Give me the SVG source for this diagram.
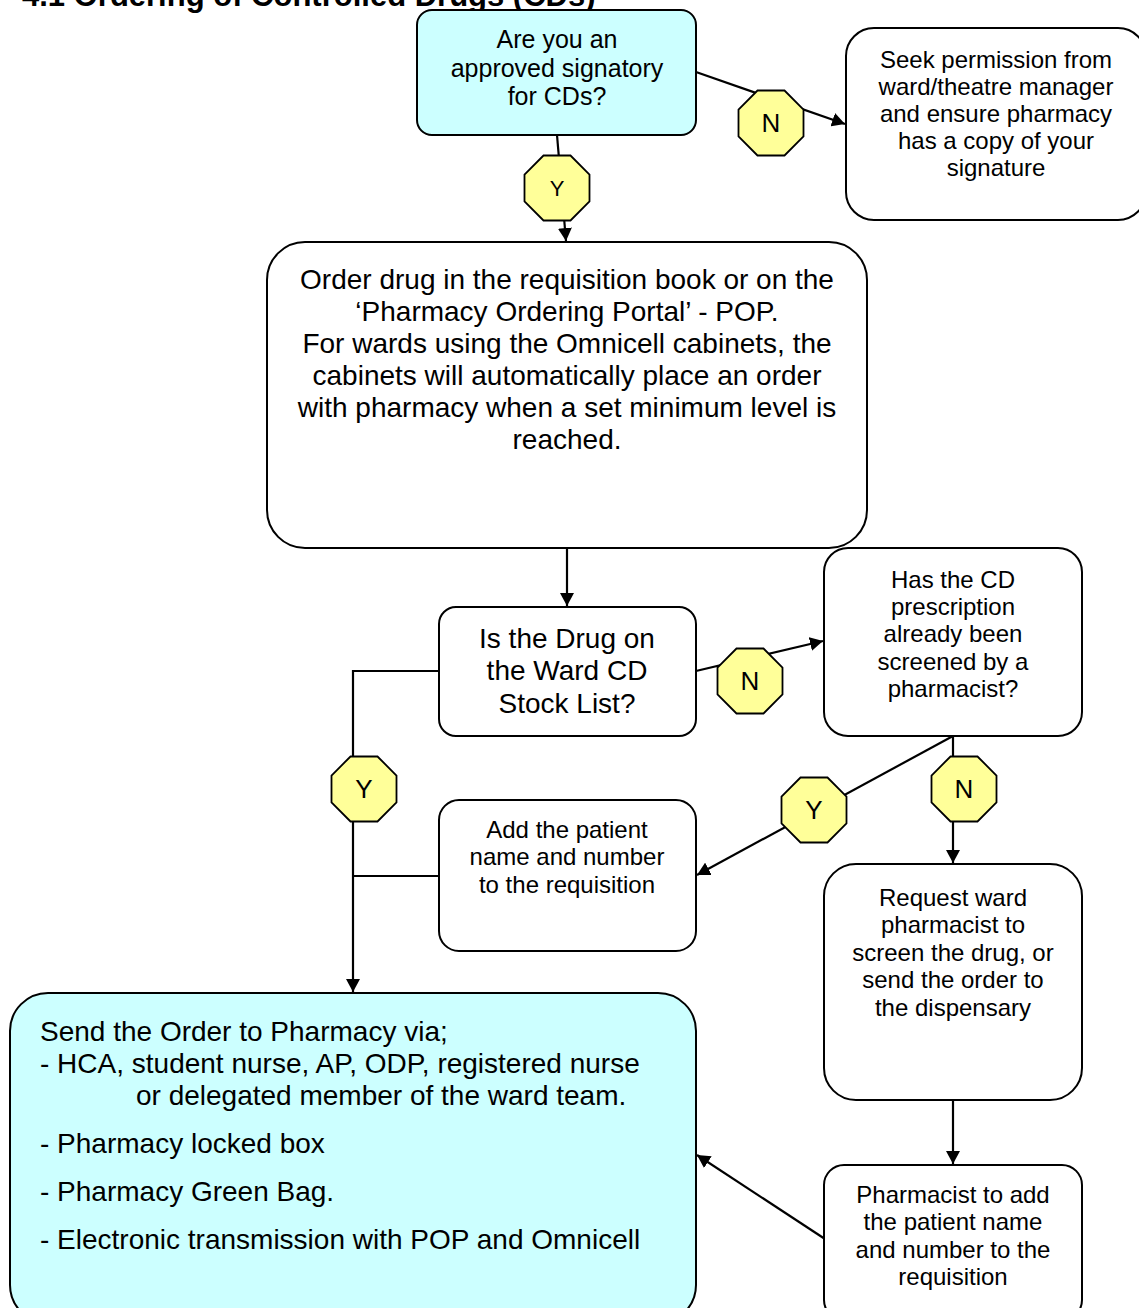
<svg xmlns="http://www.w3.org/2000/svg" width="1139" height="1308" viewBox="0 0 1139 1308">
<style>
.box{fill:#ffffff;stroke:#000;stroke-width:2}
.cyan{fill:#ccffff;stroke:#000;stroke-width:2}
.t{font-family:"Liberation Sans",Arial,sans-serif;fill:#000;text-anchor:middle}
.tl{font-family:"Liberation Sans",Arial,sans-serif;fill:#000}
.oct{fill:#ffff99;stroke:#000;stroke-width:1.8}
.ln{fill:none;stroke:#000;stroke-width:2.2}
.lbl{font-family:"Liberation Sans",Arial,sans-serif;font-size:26px;fill:#000;text-anchor:middle}
</style>
<defs>
<marker id="arr" markerUnits="userSpaceOnUse" markerWidth="14" markerHeight="14" refX="13" refY="7" orient="auto">
<path d="M0,0 L13,7 L0,14 z" fill="#000"/>
</marker>
<polygon id="octagon" points="-13.5,-32.5 13.5,-32.5 32.5,-13.5 32.5,13.5 13.5,32.5 -13.5,32.5 -32.5,13.5 -32.5,-13.5"/>
</defs>
<rect width="1139" height="1308" fill="#ffffff"/>
<text class="tl" x="22" y="6" font-size="31" font-weight="bold">4.1 Ordering of Controlled Drugs (CDs)</text>

<g id="connectors">
<line class="ln" x1="557" y1="135" x2="566" y2="241" marker-end="url(#arr)"/>
<line class="ln" x1="696" y1="72" x2="845" y2="124" marker-end="url(#arr)"/>
<line class="ln" x1="567" y1="548" x2="567" y2="606" marker-end="url(#arr)"/>
<line class="ln" x1="696" y1="671" x2="823" y2="641" marker-end="url(#arr)"/>
<polyline class="ln" points="439,671 353,671 353,992" marker-end="url(#arr)"/>
<line class="ln" x1="439" y1="876" x2="353" y2="876"/>
<line class="ln" x1="953" y1="736" x2="697" y2="875" marker-end="url(#arr)"/>
<line class="ln" x1="953" y1="736" x2="953" y2="863" marker-end="url(#arr)"/>
<line class="ln" x1="953" y1="1100" x2="953" y2="1164" marker-end="url(#arr)"/>
<line class="ln" x1="825" y1="1239" x2="697" y2="1155" marker-end="url(#arr)"/>
</g>

<g id="labels">
<g id="lbl-y1"><use href="#octagon" class="oct" x="557" y="188"/><text class="lbl" x="557" y="196" font-size="22" style="font-size:22px">Y</text></g>
<g id="lbl-n1"><use href="#octagon" class="oct" x="771" y="123"/><text class="lbl" x="771" y="132">N</text></g>
<g id="lbl-n2"><use href="#octagon" class="oct" x="750" y="681"/><text class="lbl" x="750" y="690">N</text></g>
<g id="lbl-y2"><use href="#octagon" class="oct" x="364" y="789"/><text class="lbl" x="364" y="798">Y</text></g>
<g id="lbl-y3"><use href="#octagon" class="oct" x="814" y="810"/><text class="lbl" x="814" y="819">Y</text></g>
<g id="lbl-n3"><use href="#octagon" class="oct" x="964" y="789"/><text class="lbl" x="964" y="798">N</text></g>
</g>

<g id="node-signatory">
<rect class="cyan" x="417" y="10" width="279" height="125" rx="15"/>
<text class="t" font-size="25"><tspan x="557" y="48">Are you an</tspan><tspan x="557" y="76.5">approved signatory</tspan><tspan x="557" y="105">for CDs?</tspan></text>
</g>

<g id="node-permission">
<rect class="box" x="846" y="28" width="300" height="192" rx="28"/>
<text class="t" font-size="24"><tspan x="996" y="67.5">Seek permission from</tspan><tspan x="996" y="94.7">ward/theatre manager</tspan><tspan x="996" y="122">and ensure pharmacy</tspan><tspan x="996" y="149">has a copy of your</tspan><tspan x="996" y="176.3">signature</tspan></text>
</g>

<g id="node-order">
<rect class="box" x="267" y="242" width="600" height="306" rx="38"/>
<text class="t" font-size="28"><tspan x="567" y="288.5">Order drug in the requisition book or on the</tspan><tspan x="567" y="320.6">‘Pharmacy Ordering Portal’ - POP.</tspan><tspan x="567" y="352.7">For wards using the Omnicell cabinets, the</tspan><tspan x="567" y="384.8">cabinets will automatically place an order</tspan><tspan x="567" y="416.9">with pharmacy when a set minimum level is</tspan><tspan x="567" y="449">reached.</tspan></text>
</g>

<g id="node-stocklist">
<rect class="box" x="439" y="607" width="257" height="129" rx="17"/>
<text class="t" font-size="28"><tspan x="567" y="648">Is the Drug on</tspan><tspan x="567" y="680">the Ward CD</tspan><tspan x="567" y="713">Stock List?</tspan></text>
</g>

<g id="node-screened">
<rect class="box" x="824" y="548" width="258" height="188" rx="24"/>
<text class="t" font-size="24"><tspan x="953" y="587.5">Has the CD</tspan><tspan x="953" y="614.8">prescription</tspan><tspan x="953" y="642">already been</tspan><tspan x="953" y="669.5">screened by a</tspan><tspan x="953" y="697">pharmacist?</tspan></text>
</g>

<g id="node-addpatient">
<rect class="box" x="439" y="800" width="257" height="151" rx="20"/>
<text class="t" font-size="24"><tspan x="567" y="837.5">Add the patient</tspan><tspan x="567" y="865">name and number</tspan><tspan x="567" y="892.5">to the requisition</tspan></text>
</g>

<g id="node-request">
<rect class="box" x="824" y="864" width="258" height="236" rx="32"/>
<text class="t" font-size="24"><tspan x="953" y="905.5">Request ward</tspan><tspan x="953" y="933">pharmacist to</tspan><tspan x="953" y="960.5">screen the drug, or</tspan><tspan x="953" y="988">send the order to</tspan><tspan x="953" y="1015.5">the dispensary</tspan></text>
</g>

<g id="node-pharmacist">
<rect class="box" x="824" y="1165" width="258" height="155" rx="20"/>
<text class="t" font-size="24"><tspan x="953" y="1202.5">Pharmacist to add</tspan><tspan x="953" y="1230">the patient name</tspan><tspan x="953" y="1257.5">and number to the</tspan><tspan x="953" y="1285">requisition</tspan></text>
</g>

<g id="node-send">
<rect class="cyan" x="10" y="993" width="686" height="330" rx="38"/>
<text class="tl" font-size="28"><tspan x="40" y="1041">Send the Order to Pharmacy via;</tspan><tspan x="40" y="1073">- HCA, student nurse, AP, ODP, registered nurse</tspan><tspan x="136" y="1105">or delegated member of the ward team.</tspan><tspan x="40" y="1153">- Pharmacy locked box</tspan><tspan x="40" y="1201">- Pharmacy Green Bag.</tspan><tspan x="40" y="1249">- Electronic transmission with POP and Omnicell</tspan></text>
</g>
</svg>
